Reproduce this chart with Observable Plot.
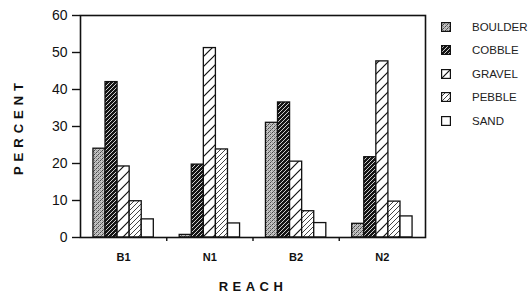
<!DOCTYPE html>
<html><head><meta charset="utf-8">
<script src="https://cdn.jsdelivr.net/npm/d3@7"></script>
<script src="https://cdn.jsdelivr.net/npm/@observablehq/plot@0.6"></script>
<style>
body{margin:0;background:#fff;}
#wrap{position:relative;width:531px;height:297px;font-family:"Liberation Sans",Arial,sans-serif;}
#legend{position:absolute;left:441px;top:15px;}
.item{display:flex;align-items:center;height:23.5px;}
.item svg{width:10px;height:10px;margin-right:21px;flex:none;}
.item span{font-size:11.5px;color:#222;white-space:nowrap;}
g[aria-label="y-axis label"] text{letter-spacing:5px;font-size:13px;font-weight:bold;}
g[aria-label="x-axis label"] text{letter-spacing:4.5px;font-size:13px;font-weight:bold;}
</style></head><body>
<svg id="defs" width="0" height="0" style="position:absolute"></svg>
<div id="wrap"><div id="legend"></div></div>
<script>
const reaches = ["B1", "N1", "B2", "N2"];
const types = ["BOULDER", "COBBLE", "GRAVEL", "PEBBLE", "SAND"];
const boulder = [24, 0.7, 31, 3.7];
const cobble = [42, 19.7, 36.5, 21.7];
const gravel = [19.2, 51.2, 20.5, 47.6];
const pebble = [9.8, 23.8, 7.1, 9.7];
const sand = [4.9, 3.8, 3.9, 5.7];
const yTicks = [0, 10, 20, 30, 40, 50, 60];

// patterns
const defs = d3.select("#defs").append("defs");
function pat(id, size) {
  return defs.append("pattern").attr("id", id).attr("patternUnits", "userSpaceOnUse")
    .attr("width", size).attr("height", size);
}
{
  const p = pat("pat-BOULDER", 4);
  p.append("rect").attr("width", 4).attr("height", 4).attr("fill", "#c4c4c4");
  [[0,0,"#444"],[2,2,"#444"],[2,0,"#888"],[0,2,"#999"],[1,3,"#666"],[3,1,"#777"]].forEach(([x,y,c]) =>
    p.append("rect").attr("x", x).attr("y", y).attr("width", 1).attr("height", 1).attr("fill", c));
}
{
  const p = pat("pat-COBBLE", 4);
  p.append("rect").attr("width", 4).attr("height", 4).attr("fill", "#151515");
  p.append("path").attr("d", "M-1,1L1,-1M0,4L4,0M3,5L5,3").attr("stroke", "#fff").attr("stroke-width", 0.8);
}
{
  const p = pat("pat-GRAVEL", 10);
  p.append("rect").attr("width", 10).attr("height", 10).attr("fill", "#fff");
  p.append("path").attr("d", "M-1,1L1,-1M0,10L10,0M9,11L11,9").attr("stroke", "#111").attr("stroke-width", 1.2);
}
{
  const p = pat("pat-PEBBLE", 5);
  p.append("rect").attr("width", 5).attr("height", 5).attr("fill", "#fff");
  p.append("path").attr("d", "M-1,1L1,-1M0,5L5,0M4,6L6,4").attr("stroke", "#444").attr("stroke-width", 1);
}
{
  const p = pat("pat-SAND", 4);
  p.append("rect").attr("width", 4).attr("height", 4).attr("fill", "#fff");
}

const series = {BOULDER: boulder, COBBLE: cobble, GRAVEL: gravel, PEBBLE: pebble, SAND: sand};
const groupPad = 0.15, barW = 0.14;
const rows = [];
reaches.forEach((r, ri) => types.forEach((t, ti) => {
  const x1 = ri + groupPad + ti * barW;
  rows.push({reach: r, type: t, value: series[t][ri], x1, x2: x1 + barW});
}));

const chart = Plot.plot({
  width: 531, height: 297,
  marginLeft: 80, marginRight: 106, marginTop: 15, marginBottom: 60,
  style: {fontFamily: "'Liberation Sans', Arial, sans-serif", color: "#111", background: "#fff"},
  x: {domain: [0, 4]},
  y: {domain: [0, 60]},
  color: {type: "identity"},
  marks: [
    Plot.rectY(rows, {x1: "x1", x2: "x2", y1: 0, y2: "value", fill: d => `url(#pat-${d.type})`, stroke: "#111", strokeWidth: 1.3}),
    Plot.frame({stroke: "#111", strokeWidth: 1.6}),
    Plot.axisY({ticks: yTicks, tickSize: 8, tickPadding: 5, fontSize: 14, strokeWidth: 1.4, label: "PERCENT", labelAnchor: "center", labelOffset: 67, labelArrow: "none"}),
    Plot.axisX({ticks: [1, 2, 3], tickSize: 4, tickFormat: () => "", label: null, strokeWidth: 1.4}),
    Plot.axisX({ticks: [0.5, 1.5, 2.5, 3.5], tickSize: 0, tickPadding: 16, tickFormat: v => reaches[Math.floor(v)], fontSize: 11, fontWeight: "bold", label: "REACH", labelAnchor: "center", labelOffset: 53, labelArrow: "none"})
  ]
});
document.getElementById("wrap").prepend(chart);

const legend = d3.select("#legend");
types.forEach(t => {
  const it = legend.append("div").attr("class", "item");
  const s = it.append("svg").attr("viewBox", "0 0 10 10");
  s.append("rect").attr("x", 0.6).attr("y", 0.6).attr("width", 8.8).attr("height", 8.8)
    .attr("fill", `url(#pat-${t})`).attr("stroke", "#111").attr("stroke-width", 1.2);
  it.append("span").text(t);
});
</script>
</body></html>
